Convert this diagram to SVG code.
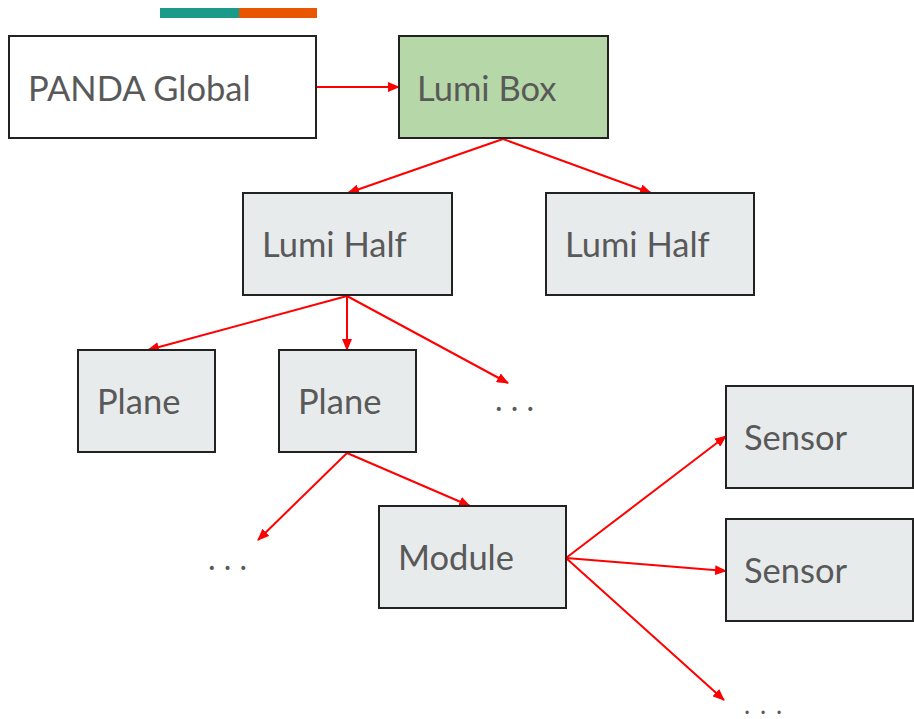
<svg xmlns="http://www.w3.org/2000/svg" width="914" height="719" viewBox="0 0 914 719">
<style>
.box{fill:#e8ebec;stroke:#222;stroke-width:2}
.t{font-family:Lato,"Liberation Sans",sans-serif;font-size:34.5px;fill:#595959}
.d{font-family:Lato,"Liberation Sans",sans-serif;font-size:32px;fill:#595959}
.c{stroke:#ff0000;stroke-width:2;fill:none;marker-end:url(#ah)}
</style>
<defs>
<marker id="ah" viewBox="0 0 12 10" refX="11" refY="5" markerWidth="12" markerHeight="10" markerUnits="userSpaceOnUse" orient="auto">
<path d="M0,0 L12,5 L0,10 z" fill="#ff0000"/>
</marker>
</defs>
<rect x="160" y="8" width="79" height="10" fill="#1a9a8a"/>
<rect x="239" y="8" width="78" height="10" fill="#e85602"/>
<g id="connectors">
<line class="c" x1="316" y1="87" x2="399" y2="87"/>
<line class="c" x1="503" y1="139" x2="348" y2="193"/>
<line class="c" x1="503" y1="139" x2="651" y2="193"/>
<line class="c" x1="347" y1="296" x2="148" y2="350"/>
<line class="c" x1="347" y1="296" x2="347" y2="350"/>
<line class="c" x1="347" y1="296" x2="508" y2="383"/>
<line class="c" x1="347" y1="453" x2="258" y2="540"/>
<line class="c" x1="347" y1="453" x2="470" y2="506"/>
<line class="c" x1="566" y1="558" x2="726" y2="436"/>
<line class="c" x1="566" y1="558" x2="726" y2="571"/>
<line class="c" x1="566" y1="558" x2="724" y2="700"/>
</g>
<g id="panda"><rect x="9" y="36" width="307" height="102" fill="#fff" stroke="#222" stroke-width="2"/><text class="t" x="28" y="101">PANDA Global</text></g>
<g id="lumibox"><rect x="399" y="36" width="209" height="102" fill="#b6d7a8" stroke="#222" stroke-width="2"/><text class="t" x="417" y="101">Lumi Box</text></g>
<g id="half1"><rect class="box" x="243" y="193" width="209" height="102"/><text class="t" x="262" y="257">Lumi Half</text></g>
<g id="half2"><rect class="box" x="546" y="193" width="208" height="102"/><text class="t" x="565" y="257">Lumi Half</text></g>
<g id="plane1"><rect class="box" x="78" y="350" width="137" height="102"/><text class="t" x="97" y="414">Plane</text></g>
<g id="plane2"><rect class="box" x="279" y="350" width="137" height="102"/><text class="t" x="298" y="414">Plane</text></g>
<g id="dots1"><text class="d" x="495" y="411">. . .</text></g>
<g id="dots2"><text class="d" x="208" y="570">. . .</text></g>
<g id="module"><rect class="box" x="379" y="506" width="187" height="102"/><text class="t" x="398" y="570">Module</text></g>
<g id="sensor1"><rect class="box" x="726" y="386" width="187" height="102"/><text class="t" x="744" y="450">Sensor</text></g>
<g id="sensor2"><rect class="box" x="726" y="519" width="187" height="102"/><text class="t" x="744" y="583">Sensor</text></g>
<g id="dots3"><text font-family="Lato, 'Liberation Sans', sans-serif" font-size="26" fill="#595959" letter-spacing="1.6" x="744" y="714">. . .</text></g>
</svg>
